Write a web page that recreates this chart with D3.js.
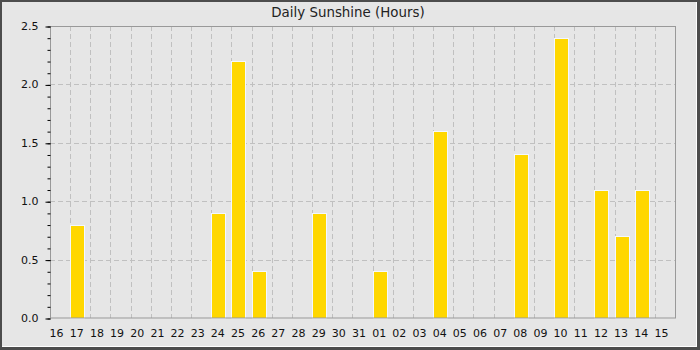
<!DOCTYPE html>
<html>
<head>
<meta charset="utf-8">
<script src="https://cdn.jsdelivr.net/npm/d3@7"></script>
<style>
  body { margin: 0; background: #fff; }
  text { font-family: "DejaVu Sans", sans-serif; }
</style>
</head>
<body>
<div id="chart-area"></div>
<script>
// days of the period (16th of one month to 15th of the next)
var days = ["16","17","18","19","20","21","22","23","24","25","26","27","28","29","30","31",
            "01","02","03","04","05","06","07","08","09","10","11","12","13","14","15"];
var sunshine = [0,0.8,0,0,0,0,0,0,0.9,2.2,0.4,0,0,0.9,0,0,
                0.4,0,0,1.6,0,0,0,1.4,0,2.4,0,1.1,0.7,1.1,0];
var yTicks = [0,0.5,1.0,1.5,2.0,2.5];

var W = 700, H = 350;
var margin = {left:50, right:25, top:26, bottom:32};
var width = W - margin.left - margin.right;
var height = H - margin.top - margin.bottom;

var svg = d3.select("#chart-area").append("svg")
  .attr("width", W)
  .attr("height", H);

// frame with bevel
svg.append("rect").attr("x",0).attr("y",0).attr("width",W).attr("height",H).attr("fill","#4d4d4d");
svg.append("rect").attr("x",2).attr("y",2).attr("width",695).attr("height",345).attr("fill","#ffffff");
svg.append("rect").attr("x",2).attr("y",2).attr("width",694).attr("height",344).attr("fill","#e6e6e6");

// title
svg.append("text")
  .attr("x", 348)
  .attr("y", 17)
  .attr("font-size", "13.4px")
  .attr("text-anchor", "middle")
  .attr("fill", "#222")
  .text("Daily Sunshine (Hours)");

var g = svg.append("g")
  .attr("transform", "translate(" + margin.left + ", " + margin.top + ")");

var x = d3.scaleBand().domain(days).range([0, width]).padding(0);
var y = d3.scaleLinear().domain([0, 2.5]).range([height, 0]);

// horizontal grid
g.append("g").selectAll("line")
  .data(yTicks.filter(function(v){ return v > 0 && v < 2.5; }))
  .enter().append("line")
  .attr("x1", 0).attr("x2", width)
  .attr("y1", function(d){ return Math.round(y(d)) + 0.5; })
  .attr("y2", function(d){ return Math.round(y(d)) + 0.5; })
  .attr("stroke", "#c0c0c0")
  .attr("stroke-dasharray", "5,3");

// vertical grid at category boundaries
g.append("g").selectAll("line")
  .data(days.slice(1))
  .enter().append("line")
  .attr("x1", function(d){ return Math.round(x(d)) + 0.5; })
  .attr("x2", function(d){ return Math.round(x(d)) + 0.5; })
  .attr("y1", 0).attr("y2", height)
  .attr("stroke", "#c0c0c0")
  .attr("stroke-dasharray", "5,3");

// bars
g.append("g").selectAll("rect")
  .data(days.map(function(d, i){ return {day: d, value: sunshine[i]}; }).filter(function(d){ return d.value > 0; }))
  .enter().append("rect")
  .attr("x", function(d){ return Math.round(x(d.day)) + 0.5; })
  .attr("y", function(d){ return Math.round(y(d.value)) + 0.5; })
  .attr("width", Math.round(x.bandwidth() * 0.7))
  .attr("height", function(d){ return Math.round(height - y(d.value)); })
  .attr("fill", "#ffd700")
  .attr("stroke", "#f4f8ff")
  .attr("stroke-width", 1);

// plot frame
g.append("rect")
  .attr("x", 0.5).attr("y", 0.5)
  .attr("width", width).attr("height", height - 0.5)
  .attr("fill", "none")
  .attr("stroke", "#999");

// y axis: minor ticks
var minor = d3.range(0, 26).map(function(i){ return i / 10; });
g.append("g")
  .attr("transform", "translate(0.5,0)")
  .call(d3.axisLeft(y).tickValues(minor).tickSize(3).tickFormat(""))
  .call(function(a){ a.select(".domain").remove(); })
  .selectAll("line").attr("transform", "translate(0,0.5)");

// y axis: major ticks + labels
var yAxis = g.append("g")
  .attr("transform", "translate(0.5,0)")
  .call(d3.axisLeft(y).tickValues(yTicks).tickSize(5).tickPadding(7).tickFormat(d3.format(".1f")));
yAxis.select(".domain").remove();
yAxis.selectAll("line").attr("transform", "translate(0,0.5)");
yAxis.selectAll("text").attr("font-size", "11px").attr("font-family", "DejaVu Sans").attr("fill", "#111");

// x axis labels
var xAxis = g.append("g")
  .attr("transform", "translate(-3.5," + height + ")")
  .call(d3.axisBottom(x).tickSize(0).tickPadding(11));
xAxis.select(".domain").remove();
xAxis.selectAll("text").attr("font-size", "11px").attr("font-family", "DejaVu Sans").attr("fill", "#111");
</script>
</body>
</html>
